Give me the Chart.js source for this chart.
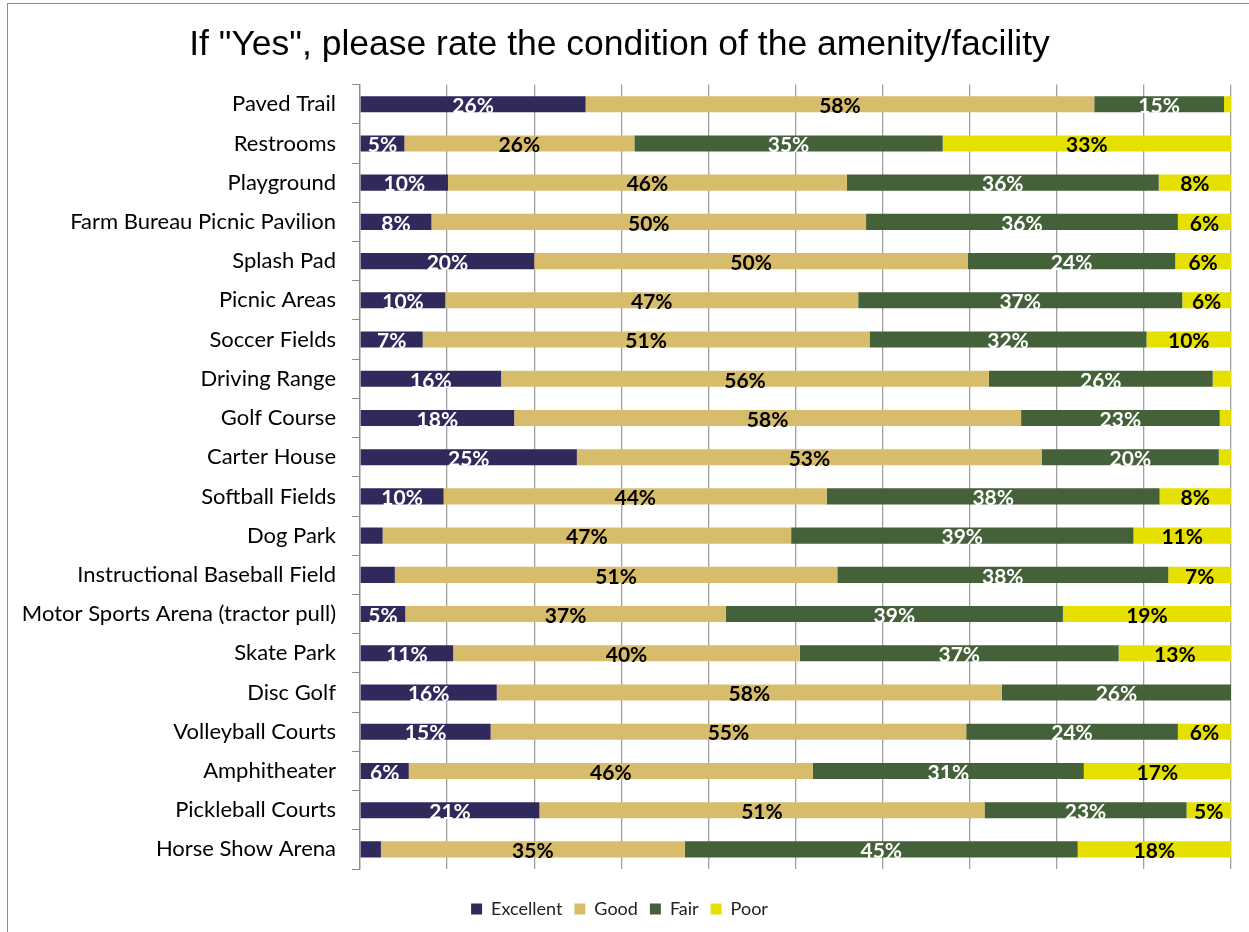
<!DOCTYPE html>
<html>
<head>
<meta charset="utf-8">
<script src="https://cdn.jsdelivr.net/npm/chart.js@4/dist/chart.umd.min.js"></script>
<style>
  html, body { margin: 0; padding: 0; background: #fff; overflow: hidden; }
  #wrap { position: relative; width: 1249px; height: 932px; }
  #frame { position: absolute; left: 7px; top: 3px; width: 1400px; height: 1100px; border: 1px solid #8c8c8c; box-sizing: border-box; }
  canvas { position: absolute; left: 0; top: 0; }
</style>
</head>
<body>
<div id="wrap">
  <div id="frame"></div>
  <canvas id="c" width="1249" height="932"></canvas>
</div>
<script>
const TITLE = 'If "Yes", please rate the condition of the amenity/facility';
const categories = [
  'Paved Trail', 'Restrooms', 'Playground', 'Farm Bureau Picnic Pavilion', 'Splash Pad',
  'Picnic Areas', 'Soccer Fields', 'Driving Range', 'Golf Course', 'Carter House',
  'Softball Fields', 'Dog Park', 'Instructional Baseball Field', 'Motor Sports Arena (tractor pull)',
  'Skate Park', 'Disc Golf', 'Volleyball Courts', 'Amphitheater', 'Pickleball Courts', 'Horse Show Arena'
];
const excellent = [25.9, 5.1, 10.1, 8.2, 20.0, 9.8, 7.2, 16.2, 17.7, 24.9, 9.6, 2.6, 4.0, 5.2, 10.7, 15.7, 15.0, 5.6, 20.6, 2.4];
const good      = [58.4, 26.4, 45.8, 49.9, 49.8, 47.4, 51.3, 56.0, 58.2, 53.4, 44.0, 46.9, 50.8, 36.8, 39.8, 58.0, 54.6, 46.4, 51.1, 34.9];
const fair      = [14.9, 35.4, 35.8, 35.8, 23.8, 37.2, 31.8, 25.7, 22.8, 20.3, 38.2, 39.3, 38.0, 38.7, 36.6, 26.3, 24.3, 31.1, 23.2, 45.1];
const poor      = [0.8, 33.1, 8.3, 6.1, 6.4, 5.6, 9.7, 2.1, 1.3, 1.4, 8.2, 11.2, 7.2, 19.3, 12.9, 0.0, 6.1, 16.9, 5.1, 17.6];
const seriesNames = ['Excellent', 'Good', 'Fair', 'Poor'];
const seriesColors = ['#302A5C', '#D7BD6B', '#44613A', '#E5E000'];
const labelColors = ['#ffffff', '#000000', '#ffffff', '#000000'];
const xTicks = [0, 10, 20, 30, 40, 50, 60, 70, 80, 90, 100];

const seriesData = [excellent, good, fair, poor];

const barLabels = {
  id: 'barLabels',
  afterDatasetsDraw(chart) {
    const ctx = chart.ctx;
    ctx.save();
    ctx.font = 'bold 21px Lato, "Open Sans", sans-serif';
    ctx.textAlign = 'center';
    ctx.textBaseline = 'middle';
    chart.data.datasets.forEach((ds, di) => {
      const meta = chart.getDatasetMeta(di);
      meta.data.forEach((el, i) => {
        const v = ds.data[i];
        const r = Math.round(v);
        if (r < 5) return;
        const p = el.getCenterPoint();
        ctx.fillStyle = labelColors[di];
        ctx.fillText(r + '%', p.x, p.y + 2);
      });
    });
    ctx.restore();
  }
};

new Chart(document.getElementById('c'), {
  type: 'bar',
  data: {
    labels: categories,
    datasets: seriesNames.map((n, i) => ({
      label: n,
      data: seriesData[i],
      backgroundColor: seriesColors[i],
      borderWidth: 0,
      barPercentage: 0.41,
      categoryPercentage: 1.0
    }))
  },
  options: {
    indexAxis: 'y',
    responsive: false,
    animation: false,
    layout: { padding: { left: 8, right: 18, top: 10, bottom: 4 } },
    scales: {
      x: {
        stacked: true,
        min: 0, max: 100,
        afterBuildTicks: (s) => { s.ticks = xTicks.map(v => ({ value: v })); },
        ticks: { display: false },
        grid: { color: '#a0a0a0', lineWidth: 1.3, drawTicks: false },
        border: { display: false },
        afterFit: (s) => { s.height = 19; }
      },
      y: {
        stacked: true,
        offset: true,
        ticks: { color: '#000', font: { family: 'Lato, "Open Sans", sans-serif', size: 22 }, padding: 16, autoSkip: false },
        grid: { drawOnChartArea: false, drawTicks: true, tickLength: 8, color: '#8c8c8c', offset: true },
        border: { display: true, color: '#8c8c8c', width: 1.3 },
        afterFit: (s) => { s.width = 352; }
      }
    },
    plugins: {
      title: {
        display: true,
        text: TITLE,
        color: '#000',
        font: { family: '"Liberation Sans", Arial, sans-serif', size: 35.5, weight: 'normal' },
        padding: { top: 14, bottom: 18 }
      },
      legend: {
        position: 'bottom',
        labels: {
          boxWidth: 11, boxHeight: 11,
          color: '#222',
          font: { family: 'Lato, "Open Sans", sans-serif', size: 18 },
          padding: 12
        }
      },
      tooltip: { enabled: false }
    }
  },
  plugins: [barLabels]
});
</script>
</body>
</html>
